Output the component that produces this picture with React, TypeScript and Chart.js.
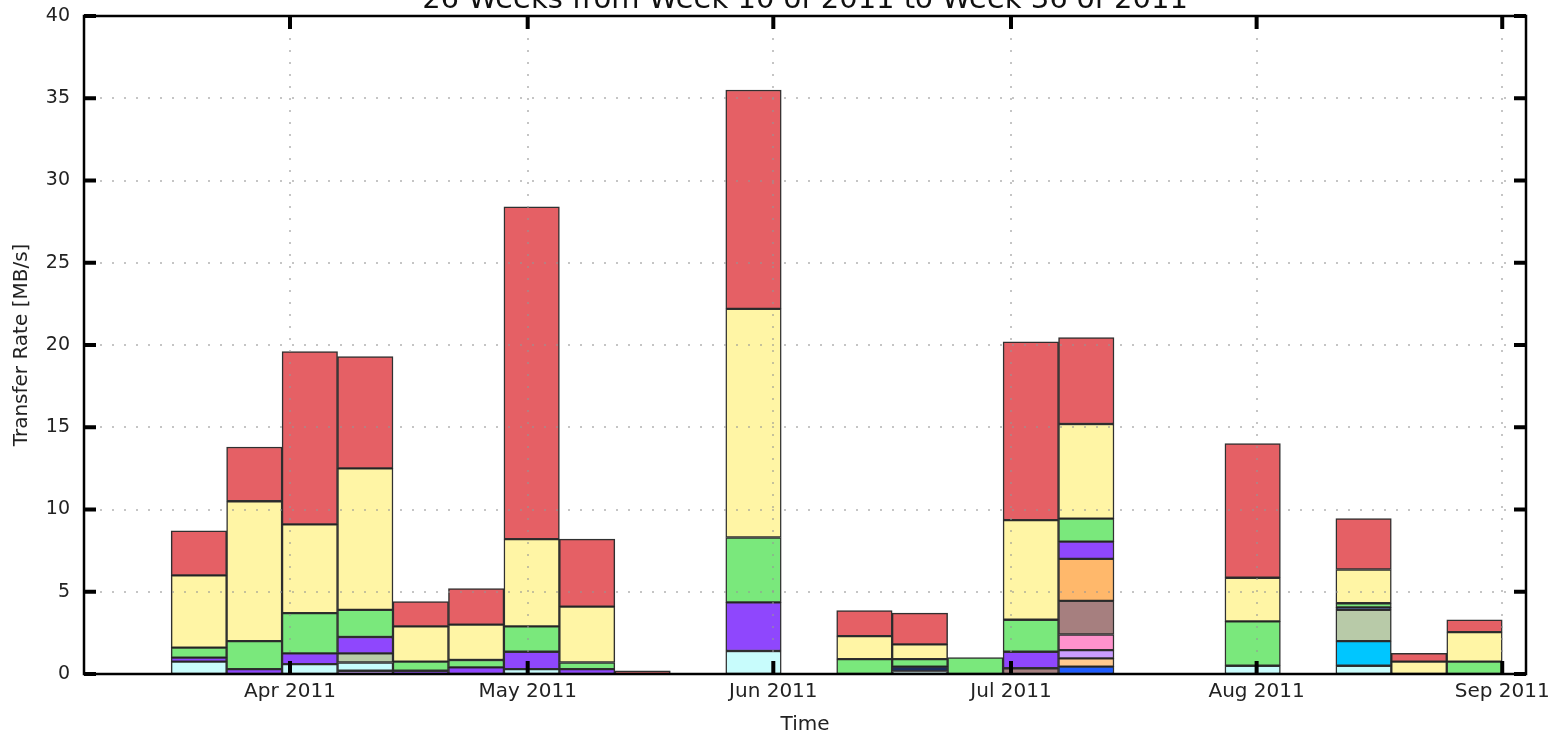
import { useEffect, useRef } from "react";
import { Chart, registerables } from "chart.js";

Chart.register(...registerables);

const _ = null;

// Start date of each weekly bin (bins run Thursday to Thursday)
const weekStarts = [
  "2011-03-17", "2011-03-24", "2011-03-31", "2011-04-07", "2011-04-14", "2011-04-21",
  "2011-04-28", "2011-05-05", "2011-05-12", "2011-05-19", "2011-05-26", "2011-06-02",
  "2011-06-09", "2011-06-16", "2011-06-23", "2011-06-30", "2011-07-07", "2011-07-14",
  "2011-07-21", "2011-07-28", "2011-08-04", "2011-08-11", "2011-08-18", "2011-08-25",
];

// Axis range and month ticks
const rangeStart = "2011-03-06";
const rangeEnd = "2011-09-04";
const monthTicks = ["2011-04-01", "2011-05-01", "2011-06-01", "2011-07-01", "2011-08-01", "2011-09-01"];
const monthLabels = ["Apr 2011", "May 2011", "Jun 2011", "Jul 2011", "Aug 2011", "Sep 2011"];
const rateTicks = [0, 5, 10, 15, 20, 25, 30, 35, 40];

// Transfer rate per link [MB/s], stacked bottom to top
const blue =        [_, _, _, _, _, _, _, _, _, _, _, _, _, _, _, _, 0.45, _, _, _, _, _, _, _];
const lightOrange = [_, _, _, _, _, _, _, _, _, _, _, _, _, _, _, _, 0.5, _, _, _, _, _, _, _];
const lavender =    [_, _, _, 0.2, _, _, _, _, _, _, _, _, _, _, _, _, 0.5, _, _, _, _, _, _, _];
const pink =        [_, _, _, _, _, _, _, _, _, _, _, _, _, _, _, _, 0.95, _, _, _, _, _, _, _];
const brown =       [_, _, _, _, _, _, _, _, _, _, _, _, _, _, _, 0.35, 2.05, _, _, _, _, _, _, _];
const lightCyan =   [0.75, _, 0.6, 0.5, _, _, 0.3, _, _, _, 1.4, _, _, 0.15, _, _, _, _, _, 0.5, _, 0.5, _, _];
const skyBlue =     [_, _, _, _, _, _, _, _, _, _, _, _, _, _, _, _, _, _, _, _, _, 1.5, _, _];
const sage =        [_, _, _, 0.55, _, _, _, _, _, _, _, _, _, _, _, _, _, _, _, _, _, 1.9, _, _];
const navy =        [_, _, _, _, _, _, _, _, _, _, _, _, _, 0.3, _, _, _, _, _, _, _, 0.15, _, _];
const orange =      [_, _, _, _, _, _, _, _, _, _, _, _, _, _, _, _, 2.55, _, _, _, _, _, _, _];
const purple =      [0.25, 0.3, 0.65, 1.0, 0.2, 0.4, 1.05, 0.3, _, _, 2.95, _, _, _, _, 1.0, 1.05, _, _, _, _, _, _, _];
const green =       [0.6, 1.7, 2.45, 1.65, 0.55, 0.45, 1.55, 0.4, _, _, 3.95, _, 0.9, 0.45, 1.0, 1.95, 1.4, _, _, 2.7, _, 0.25, _, 0.75];
const yellow =      [4.4, 8.5, 5.4, 8.6, 2.15, 2.15, 5.3, 3.4, _, _, 13.9, _, 1.4, 0.9, _, 6.05, 5.75, _, _, 2.65, _, 2.05, 0.75, 1.8];
const red =         [2.7, 3.3, 10.5, 6.8, 1.5, 2.2, 20.2, 4.1, 0.2, _, 13.3, _, 1.55, 1.9, _, 10.85, 5.25, _, _, 8.15, _, 3.1, 0.5, 0.75];

const seriesList = [
  { name: "blue", values: blue, color: "#1f5cff" },
  { name: "lightOrange", values: lightOrange, color: "#ffc98f" },
  { name: "lavender", values: lavender, color: "#c99cff" },
  { name: "pink", values: pink, color: "#ff92cc" },
  { name: "brown", values: brown, color: "#a67f7f" },
  { name: "lightCyan", values: lightCyan, color: "#c8fcfc" },
  { name: "skyBlue", values: skyBlue, color: "#00c6ff" },
  { name: "sage", values: sage, color: "#b8caa8" },
  { name: "navy", values: navy, color: "#1c2c5c" },
  { name: "orange", values: orange, color: "#ffb86b" },
  { name: "purple", values: purple, color: "#8f47fd" },
  { name: "green", values: green, color: "#7ae87c" },
  { name: "yellow", values: yellow, color: "#fff5a5" },
  { name: "red", values: red, color: "#e56065" },
];

const title = "26 Weeks from Week 10 of 2011 to Week 36 of 2011";
const FONT = "'DejaVu Sans', sans-serif";

const DAY = 86400000;
const dayOf = (iso: string) =>
  (Date.parse(iso + "T00:00:00Z") - Date.parse(rangeStart + "T00:00:00Z")) / DAY;

// Frame, inward tick marks, dotted grid and title, drawn over the bars
const framePlugin = {
  id: "frame",
  afterDatasetsDraw(chart: any) {
    const { ctx, chartArea } = chart;
    const { left, right, top, bottom } = chartArea;
    const xs = chart.scales.x;
    const ys = chart.scales.y;
    ctx.save();

    // dotted grid
    ctx.strokeStyle = "rgba(150,150,150,0.55)";
    ctx.lineWidth = 2;
    ctx.setLineDash([2, 10]);
    rateTicks.forEach((v) => {
      if (v === 0 || v === 40) return;
      const y = Math.round(ys.getPixelForValue(v));
      ctx.beginPath();
      ctx.moveTo(left + 16, y);
      ctx.lineTo(right - 4, y);
      ctx.stroke();
    });
    monthTicks.forEach((m) => {
      const x = Math.round(xs.getPixelForValue(dayOf(m)));
      ctx.beginPath();
      ctx.moveTo(x, top + 22);
      ctx.lineTo(x, bottom - 4);
      ctx.stroke();
    });
    ctx.setLineDash([]);

    // frame
    ctx.strokeStyle = "#000";
    ctx.lineWidth = 2.5;
    ctx.strokeRect(left, top, right - left, bottom - top);

    // inward tick marks
    ctx.fillStyle = "#000";
    rateTicks.forEach((v) => {
      const y = ys.getPixelForValue(v);
      ctx.fillRect(left, y - 2, 12, 4);
      ctx.fillRect(right - 12, y - 2, 12, 4);
    });
    monthTicks.forEach((m) => {
      const x = xs.getPixelForValue(dayOf(m));
      ctx.fillRect(x - 2, top, 4, 13);
      ctx.fillRect(x - 2, bottom - 13, 4, 13);
    });

    // title
    ctx.fillStyle = "#111";
    ctx.font = `29px ${FONT}`;
    ctx.textAlign = "center";
    ctx.textBaseline = "alphabetic";
    ctx.fillText(title, (left + right) / 2, 8);
    ctx.restore();
  },
};

export default function App() {
  const canvasRef = useRef<HTMLCanvasElement | null>(null);

  useEffect(() => {
    const canvas = canvasRef.current;
    if (!canvas) return;
    const centers = weekStarts.map((w) => dayOf(w) + 3.5);
    const chart = new Chart(canvas, {
      type: "bar",
      data: {
        datasets: seriesList.map((s) => ({
          label: s.name,
          data: centers.map((x, i) => ({ x, y: s.values[i] })),
          backgroundColor: s.color,
          borderColor: "rgba(25,25,25,0.9)",
          borderWidth: 1.5,
          borderSkipped: false,
          barPercentage: 1,
          categoryPercentage: 1,
        })),
      },
      options: {
        animation: false,
        responsive: false,
        devicePixelRatio: 1,
        layout: { padding: { left: 0, right: 27, top: 16, bottom: 0 } },
        plugins: {
          legend: { display: false },
          title: { display: false },
          tooltip: { enabled: false },
        },
        scales: {
          x: {
            type: "linear",
            stacked: true,
            offset: false,
            min: 0,
            max: dayOf(rangeEnd),
            grid: { display: false, drawTicks: false },
            border: { display: false },
            afterBuildTicks: (scale: any) => {
              scale.ticks = monthTicks.map((m) => ({ value: dayOf(m) }));
            },
            afterFit: (scale: any) => {
              scale.height = 61;
              scale.paddingLeft = 0;
              scale.paddingRight = 0;
            },
            ticks: {
              autoSkip: false,
              maxRotation: 0,
              padding: 6,
              color: "#222",
              font: { family: FONT, size: 20 },
              callback: (value: any) => {
                const i = monthTicks.findIndex((m) => Math.abs(dayOf(m) - value) < 0.01);
                return i >= 0 ? monthLabels[i] : "";
              },
            },
            title: {
              display: true,
              text: "Time",
              color: "#222",
              font: { family: FONT, size: 20, lineHeight: 1.0 },
              padding: { top: 0, bottom: 0 },
            },
          },
          y: {
            type: "linear",
            stacked: true,
            min: 0,
            max: 40,
            grid: { display: false, drawTicks: false },
            border: { display: false },
            afterBuildTicks: (scale: any) => {
              scale.ticks = rateTicks.map((v) => ({ value: v }));
            },
            afterFit: (scale: any) => {
              scale.width = 84;
              scale.paddingTop = 0;
              scale.paddingBottom = 0;
            },
            ticks: {
              padding: 14,
              color: "#222",
              font: { family: FONT, size: 19 },
            },
            title: {
              display: true,
              text: "Transfer Rate [MB/s]",
              color: "#222",
              font: { family: FONT, size: 20 },
              padding: { top: 10, bottom: 0 },
            },
          },
        },
      },
      plugins: [framePlugin],
    });
    return () => chart.destroy();
  }, []);

  return (
    <div style={{ position: "fixed", left: 0, top: 0, width: 1553, height: 735, background: "#fff" }}>
      <canvas ref={canvasRef} width={1553} height={735} style={{ display: "block" }} />
    </div>
  );
}
